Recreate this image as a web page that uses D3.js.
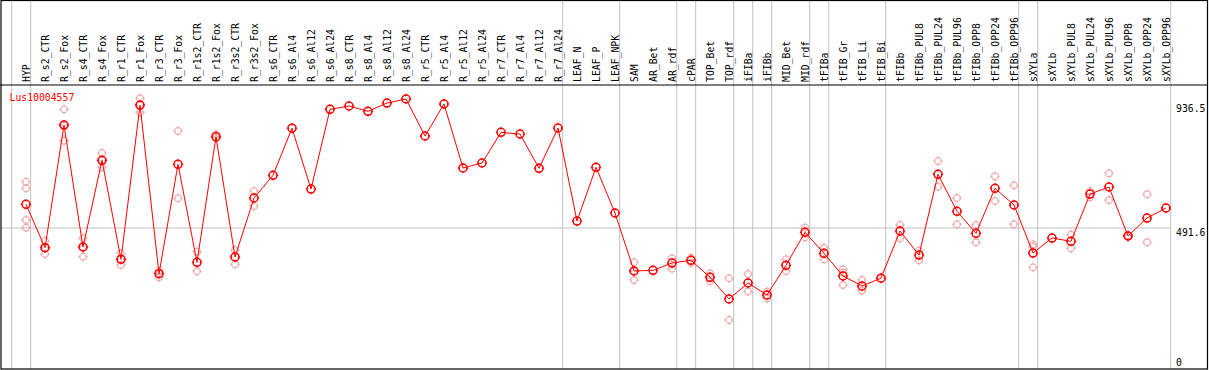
<!DOCTYPE html>
<html>
<head>
<meta charset="utf-8">
<script src="https://cdn.jsdelivr.net/npm/d3@7"></script>
<style>
  body { margin: 0; background: white; }
  svg text { font-family: "DejaVu Sans Mono", monospace; font-size: 11px; }
</style>
</head>
<body>
<svg class="svgMain" width="1209" height="370"></svg>
<script>
// Sample names along the top of the chart.
const categories = [
    "HYP", "R_s2_CTR", "R_s2_Fox", "R_s4_CTR", "R_s4_Fox", "R_r1_CTR", "R_r1_Fox", "R_r3_CTR", "R_r3_Fox",
    "R_r1s2_CTR", "R_r1s2_Fox", "R_r3s2_CTR", "R_r3s2_Fox", "R_s6_CTR", "R_s6_Al4", "R_s6_Al12", "R_s6_Al24",
    "R_s8_CTR", "R_s8_Al4", "R_s8_Al12", "R_s8_Al24", "R_r5_CTR", "R_r5_Al4", "R_r5_Al12", "R_r5_Al24",
    "R_r7_CTR", "R_r7_Al4", "R_r7_Al12", "R_r7_Al24", "LEAF_N", "LEAF_P", "LEAF_NPK", "SAM", "AR_Bet", "AR_rdf",
    "cPAR", "TOP_Bet", "TOP_rdf", "iFIBa", "iFIBb", "MID_Bet", "MID_rdf", "tFIBa", "tFIB_Gr", "tFIB_Li", "tFIB_Bi",
    "tFIBb", "tFIBb_PUL8", "tFIBb_PUL24", "tFIBb_PUL96", "tFIBb_OPP8", "tFIBb_OPP24", "tFIBb_OPP96",
    "sXYLa", "sXYLb", "sXYLb_PUL8", "sXYLb_PUL24", "sXYLb_PUL96", "sXYLb_OPP8", "sXYLb_OPP24", "sXYLb_OPP96"
];

// Last sample of each tissue group (a grey separator follows it).
const groupEnds = ["HYP", "R_r7_Al24", "LEAF_NPK", "AR_rdf", "cPAR", "TOP_rdf", "iFIBa", "iFIBb",
    "MID_rdf", "tFIBa", "tFIB_Bi", "tFIBb_OPP96", "sXYLa", "sXYLb_OPP96"];

// Mean expression per sample.
const means = [
    575.9, 421.4, 858.1, 423.9, 732.5, 380.1, 929.3, 328.9, 718.3,
    369.4, 816.5, 388.3, 598.3, 679.1, 846.7, 630.3, 914.0,
    925.8, 906.9, 936.4, 950.7, 819.0, 932.9, 705.1, 722.9,
    832.1, 826.1, 704.0, 847.5, 516.4, 707.6, 544.9, 338.5, 341.0, 366.9,
    376.6, 316.1, 238.8, 295.8, 253.1, 358.8, 476.2, 401.5, 320.7, 285.1, 312.9,
    480.9, 395.4, 682.7, 551.0, 472.7, 632.8, 573.4,
    402.5, 455.9, 444.2, 612.5, 637.5, 463.1, 527.1, 562.7
];

// Replicate values per sample (pale markers).
const replicates = [
    [656.3, 632.8, 520.0, 492.6], [445.3, 420.4, 399.0], [914.0, 858.1, 802.3], [454.9, 423.9, 389.4],
    [758.5, 732.5, 707.6], [401.5, 380.1, 359.8], [953.2, 929.3, 903.3], [339.6, 331.4, 316.1],
    [836.8, 597.2], [407.2, 337.4], [825.0, 810.8], [413.2, 362.3], [623.2, 569.8],
    [], [], [], [], [], [], [], [], [], [], [], [], [], [], [], [], [], [], [],
    [369.4, 338.5, 306.4], [], [383.7, 346.7], [385.8, 366.9], [330.3, 301.8], [312.5, 164.1],
    [327.8, 266.2], [264.8, 241.3], [380.1, 338.5], [492.6, 458.4], [421.4, 380.1],
    [344.5, 333.0, 288.7], [306.4, 268.4], [],
    [502.2, 454.9], [410.7, 376.6], [730.0, 638.5], [598.3, 504.7], [502.2, 440.6], [675.5, 587.6], [643.5, 504.7],
    [433.5, 425.0, 351.6], [], [467.7, 419.3], [623.2, 600.8], [686.2, 591.2], [465.5, 459.5], [611.5, 440.6], []
];

// Y axis labels on the right.
const yLabels = [936.5, 491.6, 0];
const geneName = "Lus10004557";

const width = 1209, height = 370;
const plotRight = 1170.7, headerY = 85, bottomY = 369;
const svg = d3.select(".svgMain");

const x = d3.scalePoint().domain(categories).range([26, 26 + 19 * (categories.length - 1)]);
const y = d3.scaleLinear().domain([0, 936.5]).range([366.1, 103]);

// Group separators.
const sepX = [x("HYP") - 19 + 4.7].concat(groupEnds.map(c => x(c) + 4.7));
svg.selectAll(".sep").data(sepX).enter().append("line")
    .attr("class", "sep")
    .attr("x1", d => d).attr("x2", d => d)
    .attr("y1", 0).attr("y2", bottomY)
    .attr("stroke", "#c0c0c0").attr("stroke-width", 1);

// Middle gridline.
svg.append("line")
    .attr("x1", 1).attr("x2", plotRight)
    .attr("y1", y(491.6)).attr("y2", y(491.6))
    .attr("stroke", "#c0c0c0").attr("stroke-width", 1);

// Frame and header rule.
svg.append("rect")
    .attr("x", 1).attr("y", 0.5).attr("width", 1207 - 0.5).attr("height", bottomY - 0.5)
    .attr("fill", "none").attr("stroke", "black").attr("stroke-width", 1.2);
svg.append("line")
    .attr("x1", 0).attr("x2", 1208).attr("y1", headerY).attr("y2", headerY)
    .attr("stroke", "black").attr("stroke-width", 1.2);

// Rotated sample labels (squeezed a little along the text, like the bitmap font).
svg.selectAll(".catLabel").data(categories).enter().append("text")
    .attr("class", "catLabel")
    .attr("transform", d => "translate(" + (x(d) + 4) + "," + 82 + ") rotate(-90) scale(0.89,1)")
    .attr("fill", "black")
    .text(d => d);

// Right side value labels.
svg.selectAll(".yLabel").data(yLabels).enter().append("text")
    .attr("class", "yLabel")
    .attr("transform", d => "translate(1176," + Math.min(y(d) + 8.5, 365.5) + ") scale(0.89,1)")
    .attr("fill", "black")
    .text(d => d);

// Gene name.
svg.append("text")
    .attr("transform", "translate(9.5,100.5) scale(0.89,1)")
    .attr("fill", "red")
    .text(geneName);

// Small crosshair ticks around a marker.
function tickPath (cx, cy, r) {
    return "M" + cx + "," + (cy - r - 1.2) + "V" + (cy - r + 1.2) +
        "M" + cx + "," + (cy + r - 1.2) + "V" + (cy + r + 1.2) +
        "M" + (cx - r - 1.2) + "," + cy + "H" + (cx - r + 1.2) +
        "M" + (cx + r - 1.2) + "," + cy + "H" + (cx + r + 1.2);
}

// Replicate markers.
let repPoints = [];
replicates.forEach((vals, i) => vals.forEach(v => repPoints.push({ cat: categories[i], v: v })));
const reps = svg.append("g").attr("class", "reps");
reps.selectAll("circle").data(repPoints).enter().append("circle")
    .attr("cx", d => x(d.cat)).attr("cy", d => y(d.v)).attr("r", 3.5)
    .attr("fill", "none").attr("stroke", "#f0a0a0").attr("stroke-width", 1);
reps.selectAll("path").data(repPoints).enter().append("path")
    .attr("d", d => tickPath(x(d.cat), y(d.v), 3.5))
    .attr("stroke", "#f0a0a0").attr("stroke-width", 1);

// Mean line.
const meanData = categories.map((c, i) => ({ cat: c, v: means[i] }));
svg.append("path")
    .datum(meanData)
    .attr("d", d3.line().x(d => x(d.cat)).y(d => y(d.v)))
    .attr("fill", "none").attr("stroke", "red").attr("stroke-width", 1);

// Mean markers.
const meanG = svg.append("g").attr("class", "means");
meanG.selectAll("circle").data(meanData).enter().append("circle")
    .attr("cx", d => x(d.cat)).attr("cy", d => y(d.v)).attr("r", 4)
    .attr("fill", "none").attr("stroke", "red").attr("stroke-width", 1.5);
meanG.selectAll("path").data(meanData).enter().append("path")
    .attr("d", d => tickPath(x(d.cat), y(d.v), 4))
    .attr("stroke", "red").attr("stroke-width", 1);
</script>
</body>
</html>
